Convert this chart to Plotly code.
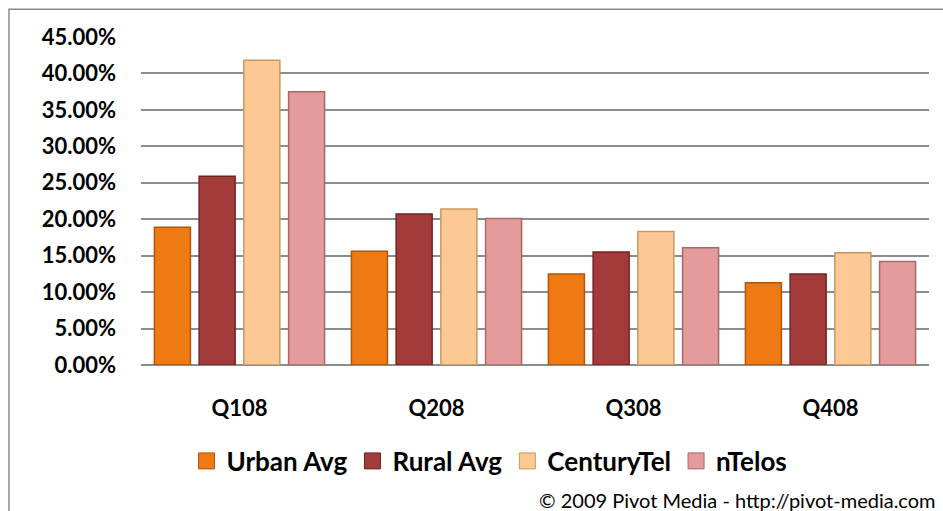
import plotly.graph_objects as go

quarters = ["Q108", "Q208", "Q308", "Q408"]
series_names = ["Urban Avg", "Rural Avg", "CenturyTel", "nTelos"]
urban_avg = [0.189, 0.156, 0.125, 0.113]
rural_avg = [0.259, 0.207, 0.155, 0.125]
centurytel = [0.418, 0.214, 0.183, 0.154]
ntelos = [0.375, 0.201, 0.161, 0.142]
y_ticks = [0, 0.05, 0.10, 0.15, 0.20, 0.25, 0.30, 0.35, 0.40, 0.45]

fill_colors = ["#EF7A14", "#A33B3B", "#FCC995", "#E39B9B"]
edge_colors = ["#B0550A", "#722424", "#C8995F", "#A86868"]

FONT = "Lato"

fig = go.Figure()
for name, vals, fc, ec in zip(series_names, [urban_avg, rural_avg, centurytel, ntelos], fill_colors, edge_colors):
    fig.add_trace(go.Bar(
        x=quarters, y=vals, name=name, legendgroup=name, showlegend=False,
        marker=dict(color=fc, line=dict(color=ec, width=1.5)),
    ))
    fig.add_trace(go.Scatter(
        x=[None], y=[None], mode="markers", name=name, legendgroup=name,
        marker=dict(symbol="square", size=16, color=fc, line=dict(color=ec, width=1)),
        showlegend=True,
    ))

fig.update_layout(
    width=943, height=511,
    margin=dict(l=141, r=14, t=37, b=146),
    paper_bgcolor="white", plot_bgcolor="white",
    barmode="group", bargap=0.092, bargroupgap=0.195,
    font=dict(family=FONT, color="black"),
    showlegend=True,
    legend=dict(
        orientation="h", x=489.5 / 943, xref="container", xanchor="center",
        y=1 - 461 / 511, yref="container", yanchor="middle",
        font=dict(family=FONT, size=26, color="black", weight="bold"),
        itemsizing="trace", traceorder="normal",
        bgcolor="rgba(0,0,0,0)",
    ),
    xaxis=dict(
        showgrid=False, showline=False, zeroline=False,
        tickfont=dict(family=FONT, size=22, weight="bold"),
        ticks="", ticklabelstandoff=28,
    ),
    yaxis=dict(
        range=[0, 0.45], tickvals=y_ticks, tickformat=".2%",
        showgrid=True, gridcolor="#8C8C8C", gridwidth=1.5,
        zeroline=True, zerolinecolor="#8C8C8C", zerolinewidth=1.5,
        showline=False, ticks="", ticklabelstandoff=24,
        tickfont=dict(family=FONT, size=22, weight="bold"),
    ),
    shapes=[dict(
        type="rect", xref="paper", yref="paper",
        x0=-132 / 788, x1=1.05, y0=-0.6, y1=(364.7 - 9) / 328,
        line=dict(color="#8A8A8A", width=1.5), fillcolor="rgba(0,0,0,0)", layer="below",
    )],
    annotations=[dict(
        text="© 2009 Pivot Media - http://pivot-media.com",
        xref="paper", yref="paper", x=(938 - 141) / 788, y=-(500 - 364.7) / 328,
        xanchor="right", yanchor="middle", showarrow=False,
        font=dict(family=FONT, size=20, color="black"),
    )],
)

fig.write_html("out.html")
